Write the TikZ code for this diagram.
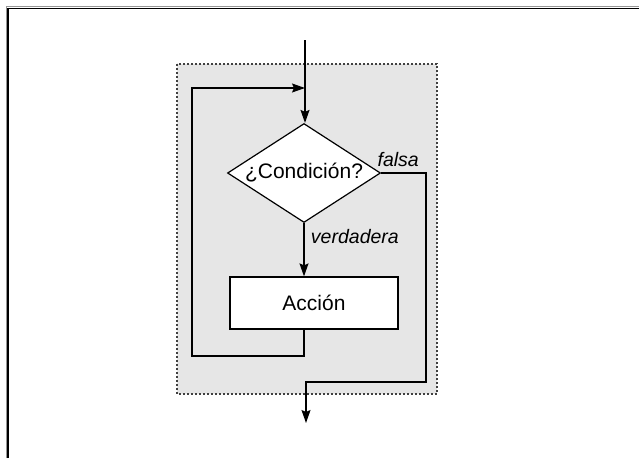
\documentclass[tikz,border=0pt]{standalone}
\usepackage{fontspec}
\setmainfont{Liberation Sans}
\usetikzlibrary{shapes.geometric, arrows.meta, positioning}
\definecolor{loopgray}{RGB}{230,230,230}
\definecolor{framegray}{RGB}{150,150,150}
\tikzset{
  base/.style={draw=black, line width=1.2pt, fill=white, align=center,
               font=\fontsize{21}{23}\selectfont, inner sep=0pt},
  decision/.style = {base, diamond, shape aspect=1.55, minimum width=153pt, minimum height=99pt},
  action/.style   = {base, rectangle, minimum width=168pt, minimum height=52pt},
  arr/.style      = {-{Stealth[length=13pt, width=9pt, inset=2pt]}, line width=1.3pt},
  lbl/.style      = {font=\fontsize{19.5}{21}\selectfont\itshape},
}

\begin{document}
\begin{tikzpicture}[x=1pt, y=-1pt,
  loopbox/.style={fill=loopgray, draw=black!75, line width=1.2pt, dash pattern=on 2pt off 2pt}
]
  \useasboundingbox (0,0) rectangle (639,458);

  % Frame
  \draw[framegray, line width=1pt] (6,458) -- (6,6.5) -- (639,6.5);
  \draw[black, line width=1.8pt] (8,458) -- (8,8.5) -- (639,8.5);

  % Loop area
  \draw[loopbox] (177,64) rectangle (437,394);

  % Nodes
  \node[decision] (cond)   at (304,173) {¿Condición?};
  \node[action]   (accion) at (314,303) {Acción};

  \coordinate (entry)    at (305,40);
  \coordinate (join)     at (305,88);
  \coordinate (loopleft) at (192,356);
  \coordinate (falsecorner) at (426,382);
  \coordinate (exit)     at (306,423);

  % Connectors
  \draw[arr] (entry) -- (entry |- cond.north);
  \draw[arr] (cond.south) -- node[lbl, right, pos=0.25, xshift=3pt]{verdadera} (cond.south |- accion.north);
  \draw[arr] (cond.south |- accion.south) |- (loopleft) |- (join);
  \draw[arr] (cond.east) -| (falsecorner) -| (exit);
  \node[lbl, above right, xshift=-7pt, yshift=3pt] (falsa) at (cond.east) {falsa};
\end{tikzpicture}
\end{document}
